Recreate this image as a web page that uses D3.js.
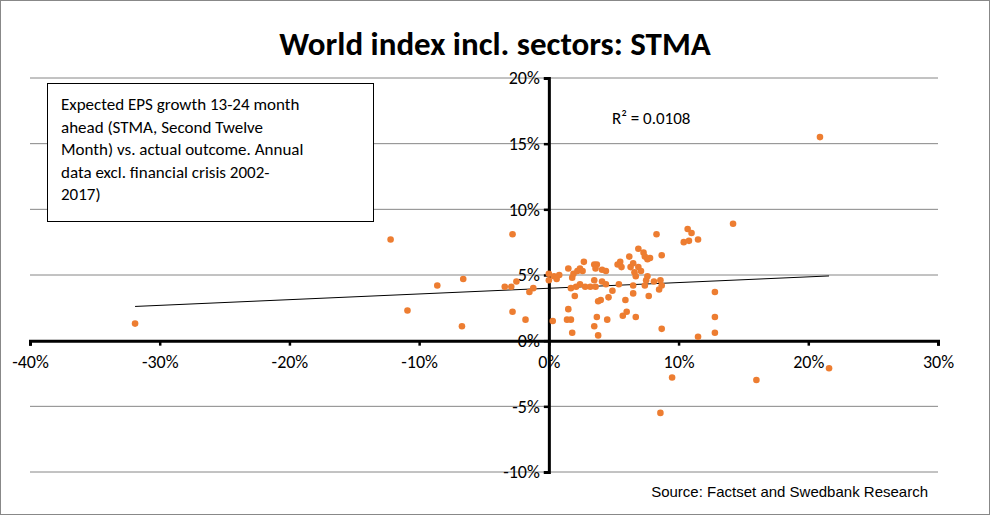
<!DOCTYPE html>
<html>
<head>
<script src="https://cdn.jsdelivr.net/npm/d3@7"></script>
<style>
  body { margin: 0; background: #fff; }
  text { font-family: Calibri, Carlito, "Open Sans", sans-serif; }
</style>
</head>
<body>
<div id="chart"></div>
<script>
// x = actual outcome (%), y = expected STMA growth (%)
var xs = [-2.8,-3.4,-2.9,-2.5,-2.8,-1.8,-1.5,-1.2,0,0,0.4,0.6,0.8,0.3,1.5,1.8,1.9,2.2,2.4,2.7,2.6,1.7,2.1,2.0,1.5,1.4,1.7,1.8,2.4,2.8,
          3.5,3.7,3.6,3.2,3.6,3.5,4.1,4.4,4.1,4.4,3.8,4.0,3.7,3.5,3.8,4.5,4.6,4.9,5.3,5.5,5.6,5.4,5.7,6.0,5.9,6.2,6.3,6.5,6.6,6.7,
          6.5,6.5,6.7,6.9,6.9,7.1,7.3,7.4,7.6,7.8,7.5,7.6,7.4,7.7,8.3,8.1,8.6,8.5,8.7,8.7,8.7,10.4,10.7,11.0,10.8,11.5,11.5,12.8,12.8,12.8,
          14.2,-31.9,-12.2,-10.9,-8.6,-6.6,-6.7,20.9,21.6,16.0,9.5,8.6];
var ys = [8.1,4.1,4.1,4.5,2.2,1.6,3.7,4.0,5.1,4.6,4.9,4.7,5.0,1.5,5.5,4.8,5.1,5.3,5.5,6.0,5.3,4.0,4.1,3.4,2.4,1.6,1.6,0.6,4.3,4.1,
          5.8,5.8,5.5,4.1,4.1,4.6,5.4,5.3,4.5,4.3,3.0,3.1,1.8,1.1,0.4,1.6,3.3,3.8,5.8,6.0,5.6,4.3,1.9,2.2,3.1,6.4,5.6,5.9,5.2,4.9,
          4.2,3.6,1.8,7.0,5.6,5.3,6.7,6.4,6.2,6.3,4.6,4.9,4.2,3.4,8.1,4.5,4.6,3.9,4.2,6.5,0.9,7.5,8.5,8.2,7.6,7.7,0.3,3.7,1.8,0.6,
          8.9,1.3,7.7,2.3,4.2,4.7,1.1,15.5,-2.1,-3.0,-2.8,-5.5];
var xTicks = [-40,-30,-20,-10,0,10,20,30];
var yTicks = [-10,-5,0,5,10,15,20];
var trendSlope = 0.0434, trendIntercept = 3.99;
var boxLines = ["Expected EPS growth 13-24 month", "ahead  (STMA, Second Twelve", "Month) vs. actual outcome. Annual", "data excl. financial crisis 2002-", "2017)"];

var width = 990, height = 515;
var svg = d3.select("#chart").append("svg").attr("width", width).attr("height", height);
svg.append("rect").attr("x", 0.5).attr("y", 0.5).attr("width", width - 1).attr("height", height - 1)
   .attr("fill", "#fff").attr("stroke", "#888");

var x = d3.scaleLinear().domain([-40, 30]).range([30, 938]);
var y = d3.scaleLinear().domain([-10, 20]).range([472, 78]);

svg.append("text").attr("x", 495).attr("y", 55).attr("text-anchor", "middle")
   .attr("font-size", 33).attr("font-weight", "bold").text("World index incl. sectors: STMA");

// gridlines
svg.selectAll(".grid").data(yTicks.filter(function(d){ return d !== 0; })).enter()
   .append("line").attr("x1", x(-40)).attr("x2", x(30))
   .attr("y1", function(d){ return y(d); }).attr("y2", function(d){ return y(d); })
   .attr("stroke", "#868686").attr("stroke-width", 1);

// axes
var xAxis = svg.append("g").attr("transform", "translate(0," + y(0) + ")")
   .call(d3.axisBottom(x).tickValues(xTicks).tickSize(5).tickFormat(function(d){ return d + "%"; }));
xAxis.select(".domain").attr("stroke-width", 3);
xAxis.selectAll(".tick line").attr("stroke-width", 2.5);
xAxis.selectAll("text").attr("font-size", 18).attr("dy", "1.05em").attr("fill", "#000");

var yAxis = svg.append("g").attr("transform", "translate(" + x(0) + ",0)")
   .call(d3.axisLeft(y).tickValues(yTicks).tickSize(5).tickFormat(function(d){ return d + "%"; }));
yAxis.select(".domain").attr("stroke-width", 3);
yAxis.selectAll(".tick line").attr("stroke-width", 2.5);
yAxis.selectAll("text").attr("font-size", 18).attr("x", -9).attr("fill", "#000");

// trendline
var xMin = d3.min(xs), xMax = d3.max(xs);
svg.append("line").attr("x1", x(xMin)).attr("x2", x(xMax))
   .attr("y1", y(trendIntercept + trendSlope * xMin)).attr("y2", y(trendIntercept + trendSlope * xMax))
   .attr("stroke", "#000").attr("stroke-width", 1);

// points
svg.selectAll(".pt").data(xs).enter().append("circle")
   .attr("cx", function(d){ return x(d); })
   .attr("cy", function(d, i){ return y(ys[i]); })
   .attr("r", 3.3).attr("fill", "#ED7D31");

svg.append("text").attr("x", 612).attr("y", 124).attr("font-size", 17).text("R² = 0.0108");

// text box
svg.append("rect").attr("x", 47.5).attr("y", 83.5).attr("width", 326).attr("height", 138)
   .attr("fill", "#fff").attr("stroke", "#000");
svg.selectAll(".bl").data(boxLines).enter().append("text")
   .attr("x", 61).attr("y", function(d, i){ return 110 + i * 22.5; })
   .attr("font-size", 17).text(function(d){ return d; });

svg.append("text").attr("x", 928).attr("y", 497).attr("text-anchor", "end")
   .attr("font-size", 15).style("font-family", "Arial, 'Liberation Sans'").text("Source: Factset and Swedbank Research");
</script>
</body>
</html>
